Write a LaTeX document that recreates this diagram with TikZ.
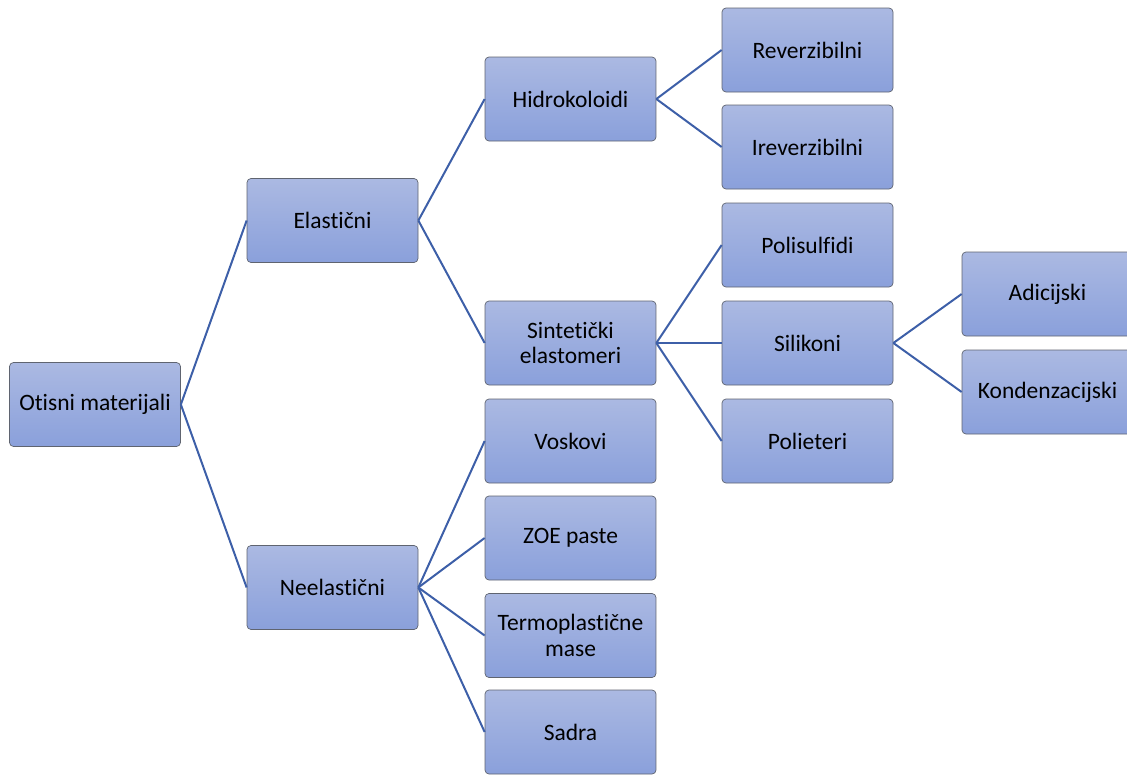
\documentclass[tikz,border=0pt]{standalone}
\usepackage{fontspec}
\setmainfont[RawFeature={-liga;-clig}]{Carlito}
\definecolor{boxtop}{HTML}{ABB9E2}
\definecolor{boxbot}{HTML}{8AA0DB}
\definecolor{boxline}{HTML}{5F6470}
\definecolor{link}{HTML}{3D5FA8}
\begin{document}
\begin{tikzpicture}[x=1pt,y=-1pt,
  box/.style={draw=boxline, line width=0.7pt, rounded corners=4pt,
    top color=boxtop, bottom color=boxbot, minimum width=171pt, minimum height=84pt,
    align=center, font=\fontsize{23.5}{25.5}\selectfont, text=black, inner sep=2pt},
  link/.style={draw=link, line width=2pt}]
\useasboundingbox (0,0) rectangle (1127,774);
\node[box] (om) at (95,404.5) {Otisni materijali};
\node[box] (el) at (332.5,220.5) {Elastični};
\node[box] (ne) at (332.5,587.5) {Neelastični};
\node[box] (hk) at (570.5,99) {Hidrokoloidi};
\node[box] (se) at (570.5,343) {Sintetički\\elastomeri};
\node[box] (vo) at (570.5,441) {Voskovi};
\node[box] (zo) at (570.5,538) {ZOE paste};
\node[box] (tm) at (570.5,635.5) {Termoplastične\\mase};
\node[box] (sa) at (570.5,732) {Sadra};
\node[box] (re) at (807.5,50) {Reverzibilni};
\node[box] (ir) at (807.5,147) {Ireverzibilni};
\node[box] (ps) at (807.5,245) {Polisulfidi};
\node[box] (si) at (807.5,343) {Silikoni};
\node[box] (pe) at (807.5,441) {Polieteri};
\node[box] (ad) at (1047.5,294) {Adicijski};
\node[box] (ko) at (1047.5,392) {Kondenzacijski};
\foreach \p/\c in {om/el,om/ne,el/hk,el/se,ne/vo,ne/zo,ne/tm,ne/sa,hk/re,hk/ir,se/ps,se/si,se/pe,si/ad,si/ko}
  \draw[link] (\p.east) -- (\c.west);
\end{tikzpicture}
\end{document}
